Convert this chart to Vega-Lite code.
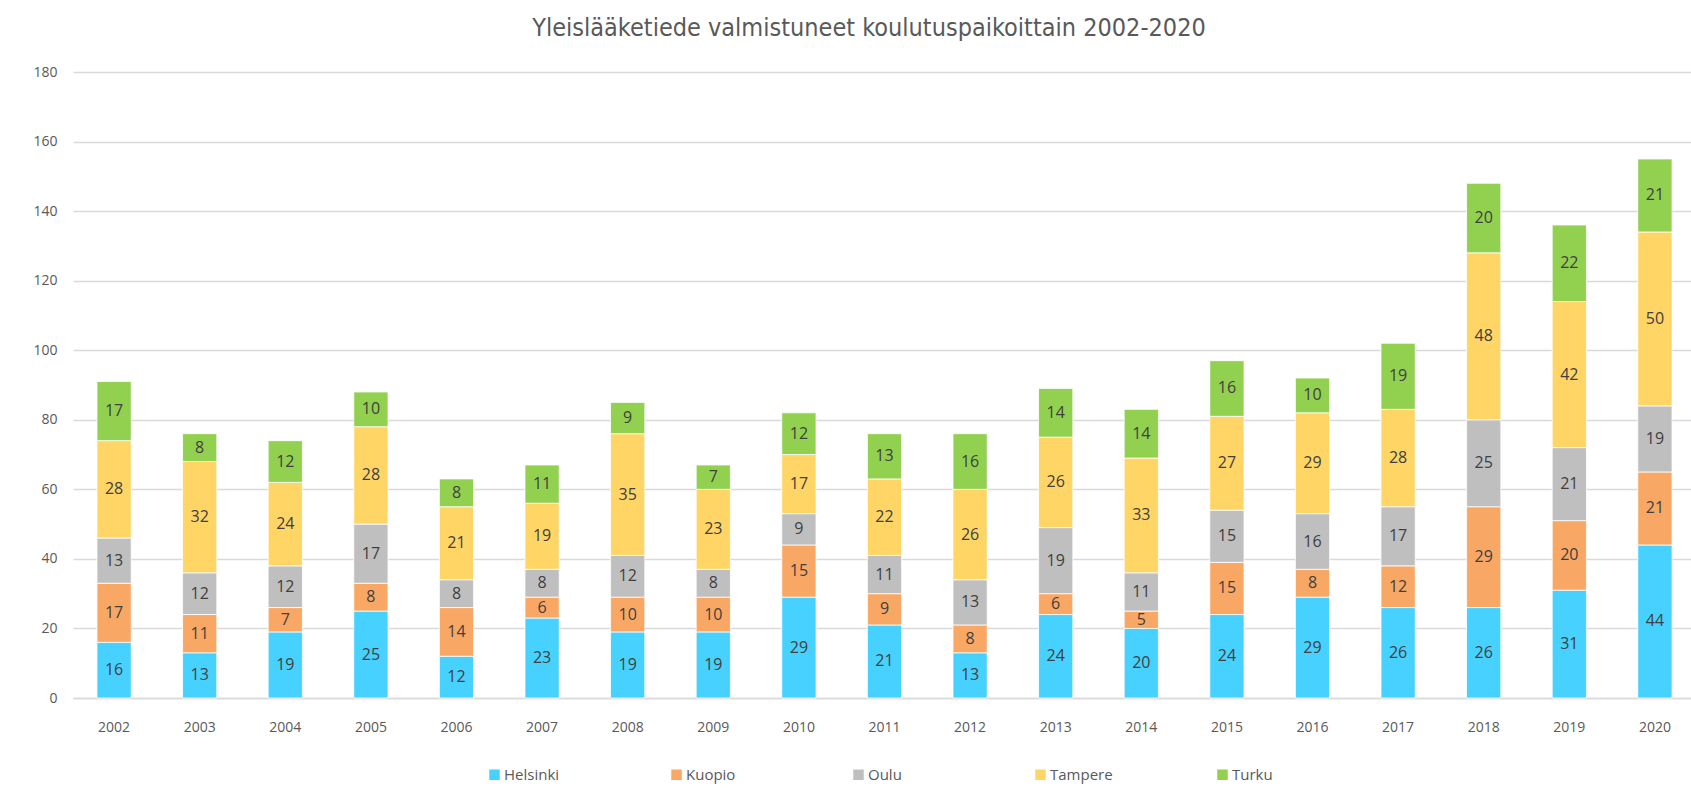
{
  "$schema": "https://vega.github.io/schema/vega-lite/v6.json",
  "autosize": {"type": "none"},
  "width": 1618,
  "height": 626,
  "padding": {"left": 73, "top": 72, "right": 0, "bottom": 90},
  "background": "white",
  "title": {
    "text": "Yleislääketiede valmistuneet koulutuspaikoittain 2002-2020",
    "font": "DejaVu Sans Condensed, Open Sans",
    "fontSize": 25,
    "fontWeight": "normal",
    "color": "#595959",
    "anchor": "middle",
    "dx": -13,
    "offset": 24
  },
  "data": {
    "values": [
      {"year": "2002", "city": "Helsinki", "value": 16}, {"year": "2002", "city": "Kuopio", "value": 17}, {"year": "2002", "city": "Oulu", "value": 13}, {"year": "2002", "city": "Tampere", "value": 28}, {"year": "2002", "city": "Turku", "value": 17},
      {"year": "2003", "city": "Helsinki", "value": 13}, {"year": "2003", "city": "Kuopio", "value": 11}, {"year": "2003", "city": "Oulu", "value": 12}, {"year": "2003", "city": "Tampere", "value": 32}, {"year": "2003", "city": "Turku", "value": 8},
      {"year": "2004", "city": "Helsinki", "value": 19}, {"year": "2004", "city": "Kuopio", "value": 7}, {"year": "2004", "city": "Oulu", "value": 12}, {"year": "2004", "city": "Tampere", "value": 24}, {"year": "2004", "city": "Turku", "value": 12},
      {"year": "2005", "city": "Helsinki", "value": 25}, {"year": "2005", "city": "Kuopio", "value": 8}, {"year": "2005", "city": "Oulu", "value": 17}, {"year": "2005", "city": "Tampere", "value": 28}, {"year": "2005", "city": "Turku", "value": 10},
      {"year": "2006", "city": "Helsinki", "value": 12}, {"year": "2006", "city": "Kuopio", "value": 14}, {"year": "2006", "city": "Oulu", "value": 8}, {"year": "2006", "city": "Tampere", "value": 21}, {"year": "2006", "city": "Turku", "value": 8},
      {"year": "2007", "city": "Helsinki", "value": 23}, {"year": "2007", "city": "Kuopio", "value": 6}, {"year": "2007", "city": "Oulu", "value": 8}, {"year": "2007", "city": "Tampere", "value": 19}, {"year": "2007", "city": "Turku", "value": 11},
      {"year": "2008", "city": "Helsinki", "value": 19}, {"year": "2008", "city": "Kuopio", "value": 10}, {"year": "2008", "city": "Oulu", "value": 12}, {"year": "2008", "city": "Tampere", "value": 35}, {"year": "2008", "city": "Turku", "value": 9},
      {"year": "2009", "city": "Helsinki", "value": 19}, {"year": "2009", "city": "Kuopio", "value": 10}, {"year": "2009", "city": "Oulu", "value": 8}, {"year": "2009", "city": "Tampere", "value": 23}, {"year": "2009", "city": "Turku", "value": 7},
      {"year": "2010", "city": "Helsinki", "value": 29}, {"year": "2010", "city": "Kuopio", "value": 15}, {"year": "2010", "city": "Oulu", "value": 9}, {"year": "2010", "city": "Tampere", "value": 17}, {"year": "2010", "city": "Turku", "value": 12},
      {"year": "2011", "city": "Helsinki", "value": 21}, {"year": "2011", "city": "Kuopio", "value": 9}, {"year": "2011", "city": "Oulu", "value": 11}, {"year": "2011", "city": "Tampere", "value": 22}, {"year": "2011", "city": "Turku", "value": 13},
      {"year": "2012", "city": "Helsinki", "value": 13}, {"year": "2012", "city": "Kuopio", "value": 8}, {"year": "2012", "city": "Oulu", "value": 13}, {"year": "2012", "city": "Tampere", "value": 26}, {"year": "2012", "city": "Turku", "value": 16},
      {"year": "2013", "city": "Helsinki", "value": 24}, {"year": "2013", "city": "Kuopio", "value": 6}, {"year": "2013", "city": "Oulu", "value": 19}, {"year": "2013", "city": "Tampere", "value": 26}, {"year": "2013", "city": "Turku", "value": 14},
      {"year": "2014", "city": "Helsinki", "value": 20}, {"year": "2014", "city": "Kuopio", "value": 5}, {"year": "2014", "city": "Oulu", "value": 11}, {"year": "2014", "city": "Tampere", "value": 33}, {"year": "2014", "city": "Turku", "value": 14},
      {"year": "2015", "city": "Helsinki", "value": 24}, {"year": "2015", "city": "Kuopio", "value": 15}, {"year": "2015", "city": "Oulu", "value": 15}, {"year": "2015", "city": "Tampere", "value": 27}, {"year": "2015", "city": "Turku", "value": 16},
      {"year": "2016", "city": "Helsinki", "value": 29}, {"year": "2016", "city": "Kuopio", "value": 8}, {"year": "2016", "city": "Oulu", "value": 16}, {"year": "2016", "city": "Tampere", "value": 29}, {"year": "2016", "city": "Turku", "value": 10},
      {"year": "2017", "city": "Helsinki", "value": 26}, {"year": "2017", "city": "Kuopio", "value": 12}, {"year": "2017", "city": "Oulu", "value": 17}, {"year": "2017", "city": "Tampere", "value": 28}, {"year": "2017", "city": "Turku", "value": 19},
      {"year": "2018", "city": "Helsinki", "value": 26}, {"year": "2018", "city": "Kuopio", "value": 29}, {"year": "2018", "city": "Oulu", "value": 25}, {"year": "2018", "city": "Tampere", "value": 48}, {"year": "2018", "city": "Turku", "value": 20},
      {"year": "2019", "city": "Helsinki", "value": 31}, {"year": "2019", "city": "Kuopio", "value": 20}, {"year": "2019", "city": "Oulu", "value": 21}, {"year": "2019", "city": "Tampere", "value": 42}, {"year": "2019", "city": "Turku", "value": 22},
      {"year": "2020", "city": "Helsinki", "value": 44}, {"year": "2020", "city": "Kuopio", "value": 21}, {"year": "2020", "city": "Oulu", "value": 19}, {"year": "2020", "city": "Tampere", "value": 50}, {"year": "2020", "city": "Turku", "value": 21}
    ]
  },
  "encoding": {
    "x": {
      "field": "year",
      "type": "ordinal",
      "title": null,
      "scale": {"range": [0, 1623], "paddingInner": 0.6, "paddingOuter": 0.28},
      "axis": {
        "labelAngle": 0,
        "labelFont": "Open Sans",
        "labelFontSize": 14,
        "labelColor": "#595959",
        "labelPadding": 22,
        "ticks": false,
        "domainColor": "#d9d9d9",
        "domainWidth": 1.5,
        "grid": false
      }
    },
    "y": {
      "field": "value",
      "type": "quantitative",
      "stack": "zero",
      "title": null,
      "scale": {"domain": [0, 180], "nice": false},
      "axis": {
        "values": [0, 20, 40, 60, 80, 100, 120, 140, 160, 180],
        "labelFont": "Open Sans",
        "labelFontSize": 14,
        "labelColor": "#595959",
        "labelPadding": 16,
        "ticks": false,
        "domain": false,
        "gridColor": "#d9d9d9",
        "gridWidth": 1.5
      }
    },
    "order": {"field": "city", "sort": "ascending"}
  },
  "layer": [
    {
      "mark": {"type": "bar", "stroke": "white", "strokeWidth": 0.8},
      "encoding": {
        "color": {
          "field": "city",
          "type": "nominal",
          "scale": {
            "domain": ["Helsinki", "Kuopio", "Oulu", "Tampere", "Turku"],
            "range": ["#47D1FF", "#F8A864", "#BFBFBF", "#FFD566", "#92D050"]
          },
          "legend": {
            "title": null,
            "orient": "none",
            "legendX": 414,
            "legendY": 695,
            "direction": "horizontal",
            "columns": 5,
            "gridAlign": "all",
            "columnPadding": 102,
            "symbolType": "square",
            "symbolSize": 110,
            "symbolStrokeWidth": 0,
            "symbolOffset": 0,
            "labelOffset": 2,
            "labelFont": "Open Sans",
            "labelFontSize": 15,
            "labelColor": "#595959"
          }
        }
      }
    },
    {
      "mark": {"type": "text", "font": "Open Sans", "fontSize": 16, "color": "#404040", "baseline": "middle"},
      "encoding": {
        "y": {"field": "value", "type": "quantitative", "stack": "zero", "bandPosition": 0.5},
        "detail": {"field": "city"},
        "text": {"field": "value", "type": "quantitative"}
      }
    }
  ],
  "config": {"view": {"stroke": null}}
}
